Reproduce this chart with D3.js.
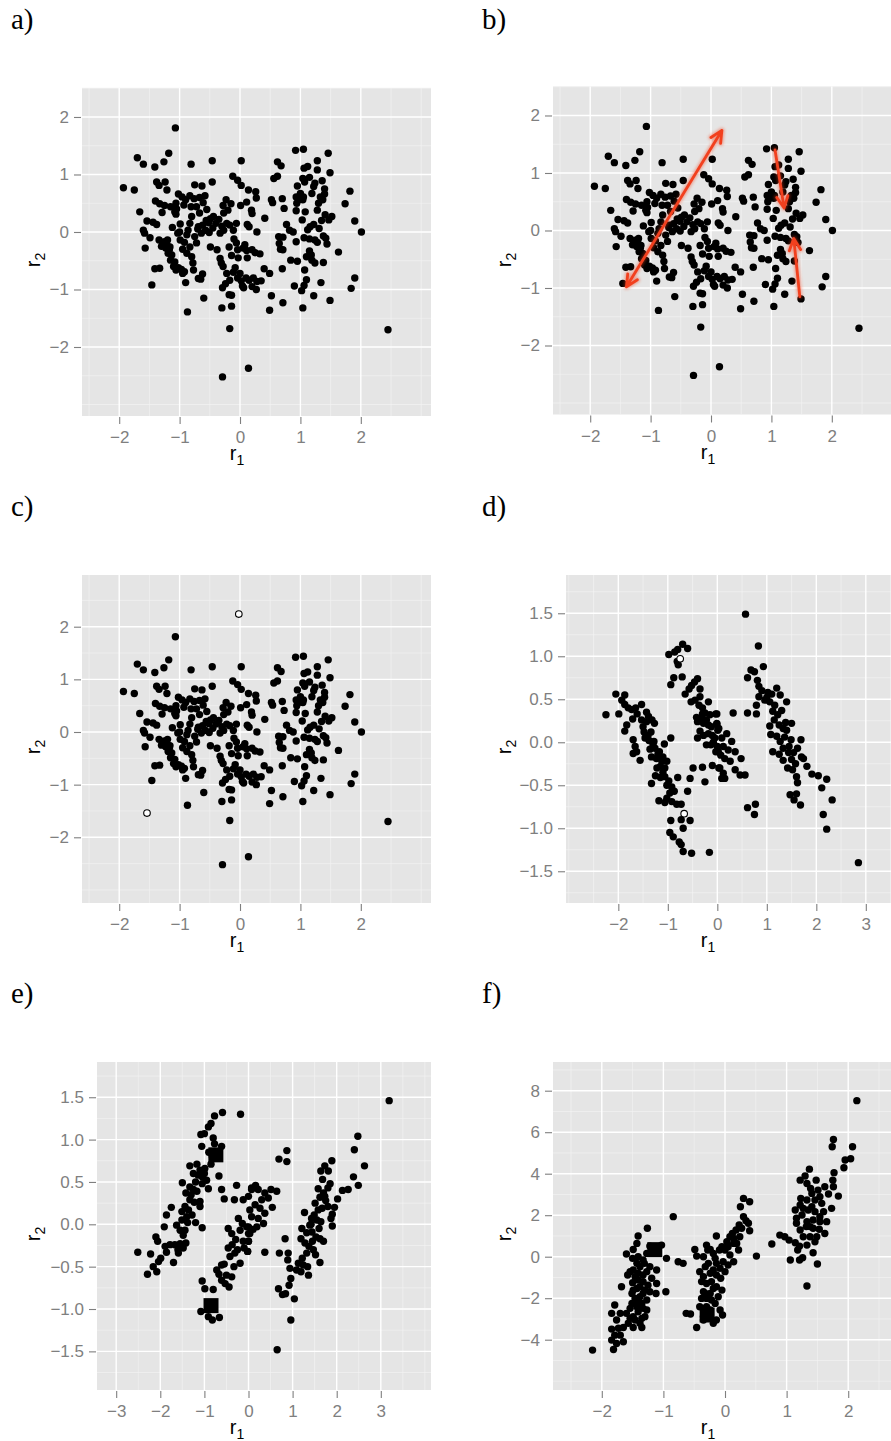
<!DOCTYPE html>
<html>
<head>
<meta charset="utf-8">
<script src="https://cdn.jsdelivr.net/npm/d3@7"></script>
<style>
  body { margin: 0; background: #fff; }
  svg { display: block; }
</style>
</head>
<body>
<svg id="fig" width="891" height="1441"></svg>
<script>
// ---- Data: residual pairs (r1, r2) ----

// Original residuals, shown in panels a, b and c
const residA = [
  [-1.07,1.81],[-1.93,0.77],[-1.75,0.73],[-1.70,1.29],[-1.60,1.18],[-1.41,1.13],[-1.26,1.22],[-1.18,1.37],
  [-0.81,1.18],[-0.46,1.24],[0.02,1.24],[0.92,1.42],[1.05,1.44],[1.46,1.37],[1.28,1.24],[0.62,1.22],
  [0.68,1.15],[1.06,1.11],[1.12,1.14],[1.49,1.03],[1.28,1.08],[0.56,0.93],[0.62,0.97],[-0.12,0.97],
  [-0.04,0.90],[0.02,0.81],[-0.46,0.87],[-1.38,0.87],[-1.34,0.81],[-1.24,0.87],[-1.21,0.73],[-0.75,0.82],
  [-0.63,0.80],[-1.66,0.35],[0.14,0.73],[0.26,0.70],[0.27,0.59],[1.04,0.93],[1.07,0.87],[1.24,0.85],
  [1.36,0.89],[1.40,0.75],[1.40,0.66],[1.82,0.71],[1.74,0.49],[1.90,0.19],[2.01,0.00],[1.63,-0.35],
  [1.90,-0.80],[1.84,-0.98],[2.45,-1.70],[0.14,-2.37],[-0.29,-2.52],[-0.17,-1.68],[-0.87,-1.39],[-0.60,-1.15],
  [-0.30,-1.32],[-0.14,-1.29],[-0.18,-1.09],[-0.14,-1.10],[-1.46,-0.92],[0.49,-1.36],[0.52,-1.11],[0.71,-1.23],
  [0.90,-0.94],[1.02,-1.02],[1.04,-1.32],[1.22,-1.11],[1.34,-0.88],[1.49,-1.19],[0.70,-0.64],[0.49,-0.72],
  [0.40,-0.64],[0.41,0.24],[0.27,-1.00],[0.06,-0.97],[-0.29,-0.97],[-0.90,-0.88],[-0.69,-0.81],[-0.65,-0.82],
  [-0.62,-0.73],[-1.57,-0.28],[-1.41,-0.64],[-1.33,-0.63],
  [-1.40,0.54],[-1.33,0.49],[-1.25,0.46],[-1.15,0.44],[-1.06,0.50],[-1.02,0.66],[-0.96,0.61],[-1.29,0.34],
  [-1.06,0.31],[-1.08,0.35],[-1.54,0.19],[-1.44,0.17],[-1.38,0.13],[-1.60,0.03],[-1.58,-0.02],[-1.49,-0.10],
  [-1.34,-0.14],[-1.25,-0.17],[-1.20,-0.14],[-1.12,0.08],[-0.99,0.14],[-1.03,-0.02],[-0.99,-0.14],[-1.16,-0.26],
  [-1.23,-0.28],[-1.19,-0.37],[-1.15,-0.49],[-1.10,-0.60],[-1.06,-0.66],[-0.95,-0.72],[-0.97,-0.65],[-0.88,-0.37],
  [-0.95,-0.30],[-0.83,-0.26],[-0.80,-0.43],[-0.78,-0.54],[-0.77,-0.66],[-0.75,-0.08],[-0.72,-0.19],[-0.86,0.03],
  [-0.83,0.15],[-0.80,0.27],[-0.81,0.44],[-0.90,0.56],[-0.83,0.63],[-0.76,0.58],[-0.67,0.60],[-0.58,0.63],
  [-0.61,0.51],[-0.72,0.44],[-0.67,0.33],[-0.55,0.39],[-0.69,0.09],[-0.64,-0.02],[-0.57,0.03],[-0.56,0.20],
  [-0.49,0.23],[-0.44,0.27],[-0.40,0.15],[-0.45,0.07],[-0.51,-0.01],[-0.49,-0.26],[-0.38,-0.31],[-0.33,-0.46],
  [-0.31,-0.54],[-0.28,-0.60],[-0.22,-0.72],[-0.11,-0.70],[-0.17,-0.84],[-0.24,-0.90],[-0.04,-0.80],[0.02,-0.85],
  [0.10,-0.80],[0.15,-0.84],[0.22,-0.80],[0.28,-0.86],[0.04,-0.94],[-0.06,-0.19],[-0.04,-0.31],[-0.03,-0.45],
  [-0.14,-0.41],[-0.18,-0.26],[0.08,-0.22],[0.11,-0.32],[0.20,-0.31],[0.25,-0.36],[0.33,-0.38],[-0.33,-0.02],
  [-0.27,0.03],[-0.22,0.15],[-0.17,0.12],[-0.11,0.03],[-0.06,0.15],[-0.27,0.33],[-0.20,0.38],[-0.23,0.56],
  [-0.15,0.49],[-0.28,0.46],[0.01,0.46],[0.11,0.52],[0.12,0.13],[0.15,0.09],[0.28,0.00],[0.20,0.32],
  [0.19,0.38],[-1.00,0.00],
  [0.52,0.56],[0.54,0.51],[0.70,0.58],[0.73,0.41],[0.93,0.61],[0.97,0.56],[1.00,0.67],[1.05,0.61],
  [0.93,0.37],[0.94,0.50],[1.04,0.56],[1.08,0.35],[1.03,0.21],[1.19,0.67],[1.22,0.79],[1.33,0.61],
  [1.37,0.56],[1.28,0.38],[1.41,0.30],[1.47,0.21],[1.52,0.27],[0.77,0.13],[0.82,0.03],[0.88,0.00],
  [0.64,-0.08],[0.71,-0.09],[0.65,-0.20],[0.67,-0.30],[0.71,-0.31],[0.93,-0.17],[0.95,-0.51],[0.84,-0.49],
  [1.06,-0.10],[1.15,-0.12],[1.24,-0.14],[1.16,0.09],[1.22,0.13],[1.31,0.06],[1.38,-0.07],[1.42,-0.11],
  [1.44,-0.21],[1.15,-0.33],[1.10,-0.43],[1.19,-0.49],[1.24,-0.54],[1.38,-0.53],[1.07,-0.66],[1.10,-0.83],
  [1.06,-0.93],
  [-1.28,-0.20],[-1.21,-0.22],[-1.17,-0.31],[-1.13,-0.40],[-1.08,-0.52],[-1.02,-0.62],[-0.92,-0.69],[-1.30,-0.25],
  [-1.05,0.40],[-0.93,0.47],[-0.88,-0.05],[-0.92,-0.18],[-0.70,0.05],[-0.62,0.12],[-0.52,0.16],[-0.35,0.22],
  [-0.30,0.10],[-0.10,-0.12],[0.05,-0.28],[0.12,-0.45],[-0.08,-0.62],[0.00,-0.72],[0.20,-0.95],[0.35,-0.85],
  [1.18,-0.40],[1.28,-0.18],[1.12,0.04],[1.30,0.50],[1.35,0.20],[0.95,0.80],[1.15,0.95]
];

// Two added observations (open circles) in panel c
const addedC = [[-0.02,2.24],[-1.54,-1.54]];

// Rotation directions indicated in panel b: [from, to, two-headed]
const arrowsB = [
  [[-1.40,-0.98],[0.18,1.74],true],
  [[1.06,1.40],[1.21,0.39],false],
  [[1.47,-1.15],[1.37,-0.14],false]
];

// Panel d residuals
const residD = [
  [-0.70,1.14],[-0.60,1.09],[-0.80,1.08],[-0.86,1.05],[-0.98,1.02],[-0.79,0.90],[-0.81,0.94],[-0.88,0.75],
  [-0.71,0.76],[-0.94,0.67],[-0.40,0.74],[-0.46,0.70],[-0.52,0.66],[-0.57,0.62],[-0.65,0.56],[-0.35,0.62],
  [-0.53,0.47],[-0.45,0.49],[-0.35,0.53],[-0.37,0.43],[-0.30,0.40],[-0.18,0.47],[-0.25,0.34],[-0.15,0.32],
  [-0.03,0.33],[-0.42,0.29],[-0.33,0.28],[-0.40,0.24],[-0.28,0.22],[-0.18,0.20],[-0.01,0.21],[0.03,0.16],
  [-0.35,0.13],[-0.40,0.05],[-0.28,0.08],[-0.18,0.10],[-0.10,0.08],[-0.05,0.05],[-0.22,-0.03],[-0.13,-0.03],
  [-0.03,-0.11],[0.07,-0.15],[-0.10,-0.27],[0.03,-0.30],[0.09,-0.42],[-0.30,-0.29],[-0.49,-0.30],[-0.55,-0.42],
  [-0.25,-0.46],[-0.60,-0.57],[-0.80,-0.41],[-2.05,0.56],[-1.87,0.55],[-1.93,0.49],[-1.87,0.44],[-1.80,0.40],
  [-1.73,0.38],[-1.65,0.40],[-1.53,0.44],[-1.62,0.33],[-1.71,0.27],[-2.25,0.32],[-1.99,0.33],[-1.43,0.35],
  [-1.39,0.30],[-1.53,0.26],[-1.43,0.24],[-1.32,0.26],[-1.27,0.22],[-1.83,0.20],[-1.87,0.13],[-1.48,0.12],
  [-1.34,0.12],[-1.46,0.05],[-1.38,0.02],[-1.28,0.01],[-1.70,0.03],[-1.66,-0.05],[-1.63,-0.11],[-1.70,-0.13],
  [-1.56,-0.21],[-1.36,-0.08],[-1.26,-0.07],[-1.17,-0.11],[-1.33,-0.17],[-1.23,-0.19],[-1.12,-0.22],[-1.02,-0.22],
  [-1.15,-0.28],[-1.06,-0.30],[-0.94,0.05],[-1.07,-0.02],[-1.25,-0.39],[-1.33,-0.48],[-1.15,-0.41],[-1.06,-0.40],
  [-1.02,-0.50],[-0.92,-0.52],[-0.87,-0.57],[-0.96,-0.59],[-1.02,-0.65],[-1.18,-0.68],[-1.06,-0.70],[-0.92,-0.69],
  [-0.82,-0.72],[-0.73,-0.72],[-0.94,-0.91],[-0.73,-0.90],[-0.55,-0.91],[-0.69,-1.00],[-0.96,-1.05],[-0.89,-1.10],
  [-0.77,-1.16],[-0.73,-1.19],[-0.69,-1.27],[-0.52,-1.29],[-0.16,-1.28],
  [0.57,1.49],[0.83,1.12],[0.93,0.88],[0.68,0.84],[0.75,0.82],[0.61,0.75],[0.81,0.72],[0.84,0.65],
  [0.84,0.53],[1.02,0.58],[1.10,0.56],[1.20,0.63],[1.27,0.55],[0.96,0.49],[1.06,0.47],[1.16,0.43],
  [1.40,0.47],[0.79,0.43],[0.79,0.33],[0.61,0.34],[0.32,0.34],[-0.01,0.33],[1.30,0.37],[1.22,0.32],
  [1.15,0.26],[1.06,0.19],[1.38,0.23],[1.50,0.22],[1.33,0.16],[1.40,0.14],[1.08,0.09],[1.20,0.07],
  [1.27,0.01],[1.49,0.03],[1.69,0.03],[1.33,-0.07],[1.44,-0.12],[1.54,-0.12],[1.62,-0.07],[1.70,-0.17],
  [1.74,-0.19],[1.33,-0.21],[1.81,-0.28],[1.12,-0.11],[1.42,-0.30],[1.52,-0.32],[1.60,-0.40],[1.62,-0.47],
  [1.91,-0.37],[2.04,-0.39],[2.21,-0.43],[2.11,-0.53],[2.32,-0.67],[1.47,-0.61],[1.60,-0.60],[1.55,-0.67],
  [1.68,-0.73],[2.14,-0.84],[2.21,-1.01],[2.85,-1.40],[0.61,-0.76],[0.77,-0.72],[0.75,-0.84],[-0.01,0.22],
  [0.01,0.14],[0.19,0.10],[0.09,0.05],[0.29,0.01],[0.12,-0.05],[0.22,-0.09],[0.36,-0.11],[0.02,-0.11],
  [0.15,-0.19],[0.26,-0.22],[0.48,-0.19],[0.05,-0.30],[0.36,-0.32],[0.46,-0.38],[0.56,-0.38],[0.15,-0.42],
  [0.12,-0.36],
  [-1.50,0.18],[-1.40,0.08],[-1.30,-0.03],[-1.20,-0.14],[-1.10,-0.17],[-1.22,-0.30],[-1.10,-0.35],[-0.98,-0.45],
  [-0.30,0.33],[-0.22,0.26],[-0.12,0.18],[-0.08,0.00],[0.00,-0.05],[1.12,0.36],[1.25,0.20],[1.36,0.06],
  [1.45,-0.05],[1.25,-0.14],[1.50,-0.20],[1.58,-0.25],[1.00,0.52],[0.90,0.60]
];
const openD = [[-0.75,0.97],[-0.67,-0.83]];

// Panel e residuals
const residE = [
  [-0.59,1.32],[-0.18,1.30],[-0.77,1.28],[-0.85,1.19],[-0.91,1.15],[-1.00,1.07],[-1.08,1.06],[-0.80,1.02],
  [-0.77,0.95],[-1.06,0.92],[-0.61,0.92],[-0.82,0.80],[-0.85,0.71],[-1.33,0.69],[-1.17,0.71],[-1.10,0.64],
  [-0.99,0.66],[-1.14,0.58],[-1.05,0.56],[-0.95,0.52],[-1.00,0.60],[-0.67,0.57],[-1.50,0.49],[-0.91,0.42],
  [-0.61,0.41],[-0.55,0.30],[-0.27,0.46],[-0.32,0.29],[-0.12,0.29],[0.07,0.43],[-1.33,0.44],[-1.25,0.41],
  [-1.42,0.37],[-1.17,0.39],[-1.33,0.29],[-1.23,0.26],[-1.10,0.27],[-1.10,0.21],[-1.44,0.21],[-1.51,0.15],
  [-1.75,0.20],[-1.86,0.11],[-1.91,-0.03],[-1.36,0.17],[-1.40,0.09],[-1.28,0.11],[-1.51,0.05],[-1.63,-0.01],
  [-1.55,-0.07],[-1.44,-0.07],[-1.48,-0.13],[-1.20,0.02],[-1.05,-0.04],[-2.10,-0.15],[-2.06,-0.20],[-1.89,-0.26],
  [-1.78,-0.24],[-1.67,-0.24],[-1.55,-0.23],[-1.42,-0.22],[-1.86,-0.33],[-1.99,-0.40],[-2.04,-0.44],[-1.70,-0.45],
  [-1.59,-0.34],[-2.51,-0.33],[-2.22,-0.35],[-2.16,-0.50],[-2.08,-0.56],[-2.29,-0.59],
  [-0.46,-0.05],[-0.38,-0.11],[-0.23,0.07],[-0.14,0.01],[-0.04,-0.03],[-0.19,-0.07],[0.00,-0.11],[-0.29,-0.18],
  [-0.12,-0.20],[0.00,-0.20],[-0.02,-0.32],[-0.46,-0.28],[-0.37,-0.24],[-0.31,-0.34],[-0.42,-0.38],[-0.19,-0.46],
  [-0.55,-0.47],[-0.61,-0.48],[-0.72,-0.54],[-0.67,-0.59],[-0.38,-0.62],[-0.61,-0.66],[-0.53,-0.70],[-0.44,-0.74],
  [-1.05,-0.67],[-0.99,-0.76],[-0.80,-0.77],[-1.08,-1.03],[-0.91,-1.09],[-0.82,-1.13],[-0.66,-1.10],
  [3.19,1.46],[2.48,1.04],[2.40,0.88],[2.63,0.69],[2.38,0.56],[2.49,0.46],[2.26,0.41],[2.13,0.40],
  [2.02,0.30],[1.89,0.75],[1.73,0.69],[1.64,0.63],[1.81,0.63],[1.85,0.48],[1.80,0.43],[1.70,0.37],
  [1.62,0.32],[1.73,0.33],[1.51,0.25],[1.67,0.19],[1.80,0.21],[1.95,0.20],[1.90,0.12],[1.58,0.17],
  [1.49,0.11],[1.43,0.07],[1.64,0.03],[1.87,0.07],[1.90,-0.02],[1.27,0.14],[1.39,-0.01],[1.21,-0.05],
  [1.32,-0.10],[1.44,-0.09],[1.53,-0.15],[1.62,-0.17],[1.70,-0.20],[1.19,-0.17],[1.28,-0.22],[1.37,-0.26],
  [1.47,-0.30],[1.52,-0.36],[1.62,-0.45],[1.32,-0.34],[1.22,-0.40],[1.13,-0.46],[1.24,-0.48],[1.34,-0.50],
  [1.19,-0.56],[1.36,-0.60],[1.09,-0.54],[0.83,-0.17],[0.90,-0.34],[0.89,-0.42],[0.70,-0.34],[0.37,-0.33],
  [0.94,-0.52],[0.96,-0.64],[0.92,-0.72],[0.68,-0.76],[0.77,-0.83],[0.84,-0.82],[1.04,-0.88],[0.96,-1.13],
  [0.65,-1.48],[0.69,0.77],[0.87,0.87],[0.87,0.74],
  [0.16,0.46],[0.07,0.41],[0.00,0.33],[0.22,0.41],[0.37,0.37],[0.51,0.41],[0.64,0.39],[0.45,0.31],
  [0.30,0.29],[0.54,0.20],[0.15,0.23],[0.03,0.17],[0.26,0.19],[0.37,0.13],[0.07,0.09],[0.22,0.07],
  [0.34,0.01],[0.00,-0.03],[0.19,-0.03],[0.03,-0.11],[0.00,-0.20],[-0.02,-0.32],
  [-1.60,-0.30],[-1.48,-0.28],[-1.38,0.02],[-1.30,0.35],[-1.20,0.50],[-1.05,0.48],[-1.25,0.60],[-0.90,0.85],
  [-0.10,-0.28],[-0.25,-0.30],[-0.33,-0.50],[-0.50,-0.60],[0.10,-0.06],[1.42,0.00],[1.55,0.05],[1.60,-0.05],
  [1.45,-0.20],[1.75,0.28],[1.58,0.42],[1.68,0.53]
];
const squaresE = [[-0.74,0.82],[-0.85,-0.96]];

// Panel f residuals
const residF = [
  [-0.84,1.93],[-1.26,1.37],[-1.41,1.00],[-1.43,0.64],[-1.49,0.35],[-1.60,0.13],[-1.50,-0.08],[-1.22,0.51],
  [-1.03,0.56],[-0.95,-0.08],[-0.76,-0.24],[-0.68,-0.32],[-1.31,-0.32],[-1.38,-0.48],[-1.22,-0.48],[-1.11,-0.64],
  [-1.54,-0.72],[-1.46,-0.96],[-1.33,-0.88],[-1.58,-0.88],[-1.19,-1.04],[-1.11,-1.29],[-1.68,-1.45],[-1.50,-1.25],
  [-1.38,-1.45],[-1.30,-1.61],[-1.49,-1.61],[-1.12,-1.77],[-0.96,-1.69],[-1.46,-2.01],[-1.38,-1.93],[-1.27,-2.09],
  [-1.54,-2.49],[-1.43,-2.41],[-1.35,-2.25],[-1.27,-2.57],[-1.79,-2.33],[-1.84,-2.73],[-1.70,-2.73],[-1.54,-2.97],
  [-1.46,-3.05],[-1.35,-2.97],[-1.30,-2.89],[-1.49,-3.41],[-1.35,-3.41],[-1.65,-3.41],[-1.84,-3.49],[-1.70,-3.78],
  [-1.84,-4.02],[-1.65,-4.10],[-1.81,-4.47],[-2.15,-4.50],[-0.63,-2.73],[-0.56,-2.76],[-0.46,-3.41],[-0.49,0.35],
  [-0.46,0.03],[-0.28,0.32],[-0.41,-0.72],[-0.38,-1.20],[-0.32,-1.77],[-0.38,-2.01],[-0.41,-2.41],[-0.35,-3.05],
  [-0.27,-2.57],
  [-1.41,0.00],[-1.33,-0.16],[-1.27,0.16],[-1.43,-0.32],[-1.49,-0.64],[-1.41,-0.80],[-1.27,-0.72],[-1.41,-1.12],
  [-1.33,-1.20],[-1.25,-1.37],[-1.43,-1.53],[-1.51,-1.77],[-1.33,-1.77],[-1.22,-1.69],[-1.41,-2.17],[-1.51,-2.25],
  [-1.33,-2.49],[-1.41,-2.65],[-1.60,-2.73],[-1.49,-2.89],[-1.38,-3.21],[-1.57,-3.21],[-1.76,-3.05],[-1.73,-3.45],
  [-1.79,-3.78],[-1.76,-4.18],
  [2.14,7.52],[1.76,5.65],[1.74,5.30],[2.07,5.30],[2.04,4.72],[1.95,4.66],[1.93,4.29],[1.77,4.05],
  [1.75,3.69],[1.76,3.37],[1.84,2.92],[1.37,4.22],[1.30,3.89],[1.22,3.69],[1.48,3.69],[1.39,3.29],
  [1.51,3.21],[1.62,3.37],[1.68,3.02],[1.23,2.81],[1.33,2.73],[1.46,2.73],[1.57,2.57],[1.73,2.33],
  [1.27,2.33],[1.35,2.25],[1.14,2.25],[1.46,2.17],[1.60,2.17],[1.16,1.85],[1.16,1.61],[1.33,1.69],
  [1.43,1.77],[1.54,1.69],[1.65,1.69],[1.32,1.45],[1.43,1.37],[1.53,1.32],[1.62,1.12],[1.27,0.96],
  [1.38,0.96],[1.49,0.96],[0.89,1.04],[0.97,0.96],[1.04,0.80],[1.14,0.67],[1.21,0.51],[1.18,0.32],
  [1.43,0.19],[0.76,0.61],[1.06,-0.16],[1.21,-0.16],[1.26,-0.05],[1.50,-0.35],[1.33,-1.41],[0.51,0.03],
  [1.33,3.53],[1.41,3.05],[1.54,2.89],[1.22,2.49],[1.41,2.41],[1.54,1.93],[1.25,2.01],[1.38,1.45],
  [1.22,1.29],[1.46,0.72],[1.33,0.56],
  [0.30,2.81],[0.40,2.65],[0.25,2.41],[0.34,1.73],[0.40,1.25],[0.23,1.53],[0.18,1.29],[0.12,1.12],
  [0.24,0.96],[-0.14,1.00],[0.03,0.72],[0.14,0.64],[-0.24,0.35],[-0.09,0.32],[0.00,0.32],[0.22,0.32],
  [-0.35,0.00],[-0.16,-0.08],[0.08,0.08],[0.14,-0.24],[-0.32,-0.48],[-0.19,-0.64],[-0.08,-0.56],[0.00,-0.72],
  [-0.07,-1.04],[-0.22,-1.20],[-0.35,-0.96],[-0.14,-1.45],[-0.35,-1.69],[-0.24,-1.77],[-0.11,-1.93],[-0.22,-2.09],
  [-0.30,-2.41],[-0.14,-3.05],[-0.04,-2.81],
  [-0.30,0.56],[-0.19,0.16],[-0.05,0.48],[0.05,0.48],[0.14,0.88],[0.19,0.64],[-0.27,-0.32],[-0.14,-0.32],
  [-0.03,-0.24],[0.05,-0.40],[-0.24,-0.80],[-0.14,-0.88],[-0.30,-1.29],[-0.19,-1.53],[-0.05,-1.61],[-0.30,-2.01],
  [-0.16,-2.25],[-0.24,-2.57],[-0.08,-2.57],[-0.35,-2.89],[-0.19,-3.21],[0.30,1.93],[0.27,1.37],[0.38,1.61],
  [0.08,0.96]
];
const squaresF = [[-1.14,0.34],[-0.29,-2.81]];

// Axis break values
const ticksUnit2 = [-2,-1,0,1,2];
const ticksUnit3 = [-2,-1,0,1,2,3];
const ticksE = [-3,-2,-1,0,1,2,3];
const ticksHalf = [-1.5,-1,-0.5,0,0.5,1,1.5];
const ticksF = [-4,-2,0,2,4,6,8];

// ---- Layout of the six panels ----
const panels = [
  { letter: "a)", col: 0, rowTop: 88,   xr: [82, 431],  yr: [88, 416],
    xDom: [-2.616, 3.162], yDom: [-3.2, 2.504], xTicks: ticksUnit2, yTicks: ticksUnit2,
    xStep: 1, yStep: 1, yFmt: "d", pts: residA },
  { letter: "b)", col: 1, rowTop: 88,   xr: [553, 902], yr: [86.5, 414.5],
    xDom: [-2.616, 3.162], yDom: [-3.2, 2.504], xTicks: ticksUnit2, yTicks: ticksUnit2,
    xStep: 1, yStep: 1, yFmt: "d", pts: residA, arrows: arrowsB },
  { letter: "c)", col: 0, rowTop: 575,  xr: [82, 431],  yr: [575, 903],
    xDom: [-2.616, 3.162], yDom: [-3.248, 2.982], xTicks: ticksUnit2, yTicks: ticksUnit2,
    xStep: 1, yStep: 1, yFmt: "d", pts: residA, open: addedC },
  { letter: "d)", col: 1, rowTop: 575,  xr: [566, 902], yr: [575, 903],
    xDom: [-3.057, 3.731], yDom: [-1.869, 1.945], xTicks: ticksUnit3, yTicks: ticksHalf,
    xStep: 1, yStep: 0.5, yFmt: ".1f", pts: residD, open: openD },
  { letter: "e)", col: 0, rowTop: 1062, xr: [97, 431],  yr: [1062, 1390],
    xDom: [-3.435, 4.138], yDom: [-1.956, 1.916], xTicks: ticksE, yTicks: ticksHalf,
    xStep: 1, yStep: 0.5, yFmt: ".1f", pts: residE, squares: squaresE },
  { letter: "f)", col: 1, rowTop: 1062, xr: [553, 902], yr: [1062, 1390],
    xDom: [-2.792, 2.873], yDom: [-6.424, 9.383], xTicks: ticksUnit2, yTicks: ticksF,
    xStep: 1, yStep: 2, yFmt: "d", pts: residF, squares: squaresF }
];

const colX = [0, 471];
const svg = d3.select("#fig");
svg.append("rect").attr("width", 891).attr("height", 1441).attr("fill", "#fff");

const defs = svg.append("defs");
const glow = defs.append("filter").attr("id", "glow").attr("x", "-20%").attr("y", "-20%")
  .attr("width", "140%").attr("height", "140%");
glow.append("feGaussianBlur").attr("stdDeviation", 1.6);

const AXIS_FONT = "'Liberation Sans', Arial, Helvetica, sans-serif";
const ARROW_RED = "#F2401E";

function gridValues(dom, step, ticks) {
  const h = step / 2, out = [];
  for (let k = Math.ceil(dom[0] / h - 1e-9); k * h <= dom[1] + 1e-9; k++) {
    const v = +(k * h).toFixed(6);
    out.push({ v, major: ticks.some(t => Math.abs(t - v) < 1e-6) });
  }
  return out;
}

panels.forEach((p, i) => {
  const g = svg.append("g");
  const x = d3.scaleLinear().domain(p.xDom).range(p.xr);
  const y = d3.scaleLinear().domain(p.yDom).range([p.yr[1], p.yr[0]]);
  const w = p.xr[1] - p.xr[0], h = p.yr[1] - p.yr[0];

  const clipId = "clip" + i;
  defs.append("clipPath").attr("id", clipId)
    .append("rect").attr("x", p.xr[0]).attr("y", p.yr[0]).attr("width", w).attr("height", h);

  // panel background
  g.append("rect").attr("x", p.xr[0]).attr("y", p.yr[0]).attr("width", w).attr("height", h)
    .attr("fill", "#E5E5E5");

  // grid: minor lines first, then major lines
  const gx = gridValues(p.xDom, p.xStep, p.xTicks);
  const gy = gridValues(p.yDom, p.yStep, p.yTicks);
  [false, true].forEach(major => {
    g.selectAll(null).data(gx.filter(d => d.major === major)).join("line")
      .attr("x1", d => x(d.v)).attr("x2", d => x(d.v))
      .attr("y1", p.yr[0]).attr("y2", p.yr[1])
      .attr("stroke", major ? "#fff" : "#F2F2F2").attr("stroke-width", major ? 1.4 : 0.7);
    g.selectAll(null).data(gy.filter(d => d.major === major)).join("line")
      .attr("y1", d => y(d.v)).attr("y2", d => y(d.v))
      .attr("x1", p.xr[0]).attr("x2", p.xr[1])
      .attr("stroke", major ? "#fff" : "#F2F2F2").attr("stroke-width", major ? 1.4 : 0.7);
  });

  // axes
  const xAxis = d3.axisBottom(x).tickValues(p.xTicks).tickSize(7).tickPadding(5)
    .tickFormat(d3.format("d"));
  const yAxis = d3.axisLeft(y).tickValues(p.yTicks).tickSize(7).tickPadding(5)
    .tickFormat(d3.format(p.yFmt));
  const ax = g.append("g").attr("transform", `translate(0,${p.yr[1] + 1})`).call(xAxis);
  const ay = g.append("g").attr("transform", `translate(${p.xr[0] - 1},0)`).call(yAxis);
  [ax, ay].forEach(a => {
    a.select(".domain").remove();
    a.selectAll(".tick line").attr("stroke", "#7F7F7F").attr("stroke-width", 1.1);
    a.selectAll(".tick text").attr("fill", "#7F7F7F").attr("font-size", 17)
      .attr("font-family", AXIS_FONT);
  });
  ax.selectAll(".tick text").attr("dy", "0.85em");

  // axis titles r1 and r2
  const cx = colX[p.col];
  const xt = g.append("text").attr("x", cx + 237).attr("y", p.yr[1] + 44)
    .attr("text-anchor", "middle").attr("font-family", AXIS_FONT).attr("font-size", 20).attr("fill", "#000");
  xt.append("tspan").text("r");
  xt.append("tspan").attr("font-size", 14).attr("dy", 5).text("1");

  const yt = g.append("text")
    .attr("transform", `translate(${cx + 40},${p.rowTop + 172}) rotate(-90)`)
    .attr("text-anchor", "middle").attr("font-family", AXIS_FONT).attr("font-size", 20).attr("fill", "#000");
  yt.append("tspan").text("r");
  yt.append("tspan").attr("font-size", 14).attr("dy", 5).text("2");

  // panel letter
  svg.append("text").attr("x", cx + 11).attr("y", p.rowTop - 59)
    .attr("font-family", "'Liberation Serif', 'DejaVu Serif', serif").attr("font-size", 29)
    .attr("fill", "#000").text(p.letter);

  // points
  const pg = g.append("g").attr("clip-path", `url(#${clipId})`);
  pg.selectAll(null).data(p.pts).join("circle")
    .attr("cx", d => x(d[0])).attr("cy", d => y(d[1])).attr("r", 3.7).attr("fill", "#000");

  if (p.squares) {
    pg.selectAll(null).data(p.squares).join("rect")
      .attr("x", d => x(d[0]) - 7.5).attr("y", d => y(d[1]) - 7.5)
      .attr("width", 15).attr("height", 15).attr("fill", "#000");
  }
  if (p.open) {
    pg.selectAll(null).data(p.open).join("circle")
      .attr("cx", d => x(d[0])).attr("cy", d => y(d[1])).attr("r", 3.3)
      .attr("fill", "#fff").attr("stroke", "#000").attr("stroke-width", 1.1);
  }

  // rotation arrows
  if (p.arrows) {
    const head = (tip, from) => {
      const ang = Math.atan2(tip[1] - from[1], tip[0] - from[0]);
      const L = 13, a = 0.45;
      const p1 = [tip[0] - L * Math.cos(ang - a), tip[1] - L * Math.sin(ang - a)];
      const p2 = [tip[0] - L * Math.cos(ang + a), tip[1] - L * Math.sin(ang + a)];
      return `M${p1}L${tip}L${p2}`;
    };
    const ag = g.append("g");
    [["glow", 5, 0.45], ["main", 2.8, 1]].forEach(([kind, sw, op]) => {
      const layer = ag.append("g").attr("opacity", op);
      if (kind === "glow") layer.attr("filter", "url(#glow)");
      p.arrows.forEach(([a0, a1, both]) => {
        const s = [x(a0[0]), y(a0[1])], e = [x(a1[0]), y(a1[1])];
        let d = `M${s}L${e}` + head(e, s);
        if (both) d += head(s, e);
        layer.append("path").attr("d", d).attr("fill", "none")
          .attr("stroke", ARROW_RED).attr("stroke-width", sw)
          .attr("stroke-linecap", "round").attr("stroke-linejoin", "round");
      });
    });
  }
});
</script>
</body>
</html>
